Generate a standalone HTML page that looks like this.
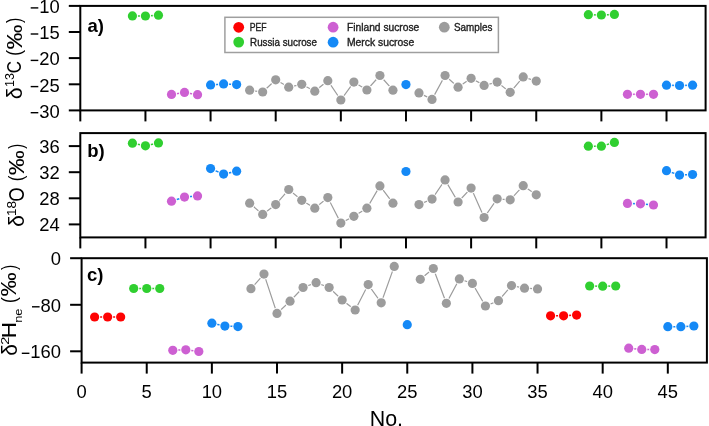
<!DOCTYPE html>
<html><head><meta charset="utf-8"><style>
html,body{margin:0;padding:0;background:#fff;width:709px;height:426px;overflow:hidden}
svg{display:block;will-change:transform}
text{font-family:"Liberation Sans",sans-serif;fill:#000}
.tl{font-size:18.4px}
.pl{font-size:18.5px;font-weight:bold}
.yt{font-size:18.4px}
.sup{font-size:12px}
.lg{font-size:10px;fill:#1e1e1e;stroke:#1e1e1e;stroke-width:0.35px}
</style></head><body>
<svg width="709" height="426" viewBox="0 0 709 426">
<rect x="80.3" y="5.9" width="625.3" height="104.5" fill="none" stroke="#000" stroke-width="2"/>
<line x1="80.3" y1="110.4" x2="80.3" y2="121.4" stroke="#000" stroke-width="2"/>
<line x1="145.44" y1="110.4" x2="145.44" y2="121.4" stroke="#000" stroke-width="2"/>
<line x1="210.57" y1="110.4" x2="210.57" y2="121.4" stroke="#000" stroke-width="2"/>
<line x1="275.7" y1="110.4" x2="275.7" y2="121.4" stroke="#000" stroke-width="2"/>
<line x1="340.84" y1="110.4" x2="340.84" y2="121.4" stroke="#000" stroke-width="2"/>
<line x1="405.97" y1="110.4" x2="405.97" y2="121.4" stroke="#000" stroke-width="2"/>
<line x1="471.11" y1="110.4" x2="471.11" y2="121.4" stroke="#000" stroke-width="2"/>
<line x1="536.25" y1="110.4" x2="536.25" y2="121.4" stroke="#000" stroke-width="2"/>
<line x1="601.38" y1="110.4" x2="601.38" y2="121.4" stroke="#000" stroke-width="2"/>
<line x1="666.51" y1="110.4" x2="666.51" y2="121.4" stroke="#000" stroke-width="2"/>
<path d="M132.41 15.9 L145.44 16 L158.46 15.2" fill="none" stroke="#30cf30" stroke-width="1.5"/>
<path d="M588.35 14.7 L601.38 15 L614.41 14.4" fill="none" stroke="#30cf30" stroke-width="1.5"/>
<path d="M171.49 94.4 L184.52 92.4 L197.54 94.7" fill="none" stroke="#cd60d2" stroke-width="1.5"/>
<path d="M627.43 94.3 L640.46 94.3 L653.49 94.3" fill="none" stroke="#cd60d2" stroke-width="1.5"/>
<path d="M210.57 84.9 L223.6 83.9 L236.62 84.6" fill="none" stroke="#1589f6" stroke-width="1.5"/>
<path d="M666.51 85.2 L679.54 85.5 L692.57 85.2" fill="none" stroke="#1589f6" stroke-width="1.5"/>
<path d="M249.65 90.2 L262.68 92 L275.7 79.8 L288.73 87.2 L301.76 84.3 L314.79 91.2 L327.81 80.7 L340.84 100 L353.87 82.1 L366.89 90 L379.92 75.5 L392.95 90.2" fill="none" stroke="#9c9c9c" stroke-width="1.2"/>
<path d="M419 92.9 L432.03 99.4 L445.06 75.5 L458.08 87.2 L471.11 78.3 L484.14 85.4 L497.16 82.1 L510.19 92.3 L523.22 76.9 L536.25 81.1" fill="none" stroke="#9c9c9c" stroke-width="1.2"/>
<circle cx="132.41" cy="15.9" r="5.6" fill="#fff"/>
<circle cx="145.44" cy="16" r="5.6" fill="#fff"/>
<circle cx="158.46" cy="15.2" r="5.6" fill="#fff"/>
<circle cx="588.35" cy="14.7" r="5.6" fill="#fff"/>
<circle cx="601.38" cy="15" r="5.6" fill="#fff"/>
<circle cx="614.41" cy="14.4" r="5.6" fill="#fff"/>
<circle cx="171.49" cy="94.4" r="5.6" fill="#fff"/>
<circle cx="184.52" cy="92.4" r="5.6" fill="#fff"/>
<circle cx="197.54" cy="94.7" r="5.6" fill="#fff"/>
<circle cx="627.43" cy="94.3" r="5.6" fill="#fff"/>
<circle cx="640.46" cy="94.3" r="5.6" fill="#fff"/>
<circle cx="653.49" cy="94.3" r="5.6" fill="#fff"/>
<circle cx="210.57" cy="84.9" r="5.6" fill="#fff"/>
<circle cx="223.6" cy="83.9" r="5.6" fill="#fff"/>
<circle cx="236.62" cy="84.6" r="5.6" fill="#fff"/>
<circle cx="666.51" cy="85.2" r="5.6" fill="#fff"/>
<circle cx="679.54" cy="85.5" r="5.6" fill="#fff"/>
<circle cx="692.57" cy="85.2" r="5.6" fill="#fff"/>
<circle cx="405.97" cy="84.6" r="5.6" fill="#fff"/>
<circle cx="249.65" cy="90.2" r="5.6" fill="#fff"/>
<circle cx="262.68" cy="92" r="5.6" fill="#fff"/>
<circle cx="275.7" cy="79.8" r="5.6" fill="#fff"/>
<circle cx="288.73" cy="87.2" r="5.6" fill="#fff"/>
<circle cx="301.76" cy="84.3" r="5.6" fill="#fff"/>
<circle cx="314.79" cy="91.2" r="5.6" fill="#fff"/>
<circle cx="327.81" cy="80.7" r="5.6" fill="#fff"/>
<circle cx="340.84" cy="100" r="5.6" fill="#fff"/>
<circle cx="353.87" cy="82.1" r="5.6" fill="#fff"/>
<circle cx="366.89" cy="90" r="5.6" fill="#fff"/>
<circle cx="379.92" cy="75.5" r="5.6" fill="#fff"/>
<circle cx="392.95" cy="90.2" r="5.6" fill="#fff"/>
<circle cx="419" cy="92.9" r="5.6" fill="#fff"/>
<circle cx="432.03" cy="99.4" r="5.6" fill="#fff"/>
<circle cx="445.06" cy="75.5" r="5.6" fill="#fff"/>
<circle cx="458.08" cy="87.2" r="5.6" fill="#fff"/>
<circle cx="471.11" cy="78.3" r="5.6" fill="#fff"/>
<circle cx="484.14" cy="85.4" r="5.6" fill="#fff"/>
<circle cx="497.16" cy="82.1" r="5.6" fill="#fff"/>
<circle cx="510.19" cy="92.3" r="5.6" fill="#fff"/>
<circle cx="523.22" cy="76.9" r="5.6" fill="#fff"/>
<circle cx="536.25" cy="81.1" r="5.6" fill="#fff"/>
<circle cx="132.41" cy="15.9" r="4.6" fill="#30cf30"/>
<circle cx="145.44" cy="16" r="4.6" fill="#30cf30"/>
<circle cx="158.46" cy="15.2" r="4.6" fill="#30cf30"/>
<circle cx="588.35" cy="14.7" r="4.6" fill="#30cf30"/>
<circle cx="601.38" cy="15" r="4.6" fill="#30cf30"/>
<circle cx="614.41" cy="14.4" r="4.6" fill="#30cf30"/>
<circle cx="171.49" cy="94.4" r="4.6" fill="#cd60d2"/>
<circle cx="184.52" cy="92.4" r="4.6" fill="#cd60d2"/>
<circle cx="197.54" cy="94.7" r="4.6" fill="#cd60d2"/>
<circle cx="627.43" cy="94.3" r="4.6" fill="#cd60d2"/>
<circle cx="640.46" cy="94.3" r="4.6" fill="#cd60d2"/>
<circle cx="653.49" cy="94.3" r="4.6" fill="#cd60d2"/>
<circle cx="210.57" cy="84.9" r="4.6" fill="#1589f6"/>
<circle cx="223.6" cy="83.9" r="4.6" fill="#1589f6"/>
<circle cx="236.62" cy="84.6" r="4.6" fill="#1589f6"/>
<circle cx="666.51" cy="85.2" r="4.6" fill="#1589f6"/>
<circle cx="679.54" cy="85.5" r="4.6" fill="#1589f6"/>
<circle cx="692.57" cy="85.2" r="4.6" fill="#1589f6"/>
<circle cx="405.97" cy="84.6" r="4.6" fill="#1589f6"/>
<circle cx="249.65" cy="90.2" r="4.6" fill="#9c9c9c"/>
<circle cx="262.68" cy="92" r="4.6" fill="#9c9c9c"/>
<circle cx="275.7" cy="79.8" r="4.6" fill="#9c9c9c"/>
<circle cx="288.73" cy="87.2" r="4.6" fill="#9c9c9c"/>
<circle cx="301.76" cy="84.3" r="4.6" fill="#9c9c9c"/>
<circle cx="314.79" cy="91.2" r="4.6" fill="#9c9c9c"/>
<circle cx="327.81" cy="80.7" r="4.6" fill="#9c9c9c"/>
<circle cx="340.84" cy="100" r="4.6" fill="#9c9c9c"/>
<circle cx="353.87" cy="82.1" r="4.6" fill="#9c9c9c"/>
<circle cx="366.89" cy="90" r="4.6" fill="#9c9c9c"/>
<circle cx="379.92" cy="75.5" r="4.6" fill="#9c9c9c"/>
<circle cx="392.95" cy="90.2" r="4.6" fill="#9c9c9c"/>
<circle cx="419" cy="92.9" r="4.6" fill="#9c9c9c"/>
<circle cx="432.03" cy="99.4" r="4.6" fill="#9c9c9c"/>
<circle cx="445.06" cy="75.5" r="4.6" fill="#9c9c9c"/>
<circle cx="458.08" cy="87.2" r="4.6" fill="#9c9c9c"/>
<circle cx="471.11" cy="78.3" r="4.6" fill="#9c9c9c"/>
<circle cx="484.14" cy="85.4" r="4.6" fill="#9c9c9c"/>
<circle cx="497.16" cy="82.1" r="4.6" fill="#9c9c9c"/>
<circle cx="510.19" cy="92.3" r="4.6" fill="#9c9c9c"/>
<circle cx="523.22" cy="76.9" r="4.6" fill="#9c9c9c"/>
<circle cx="536.25" cy="81.1" r="4.6" fill="#9c9c9c"/>
<rect x="80.3" y="133.1" width="625.3" height="104.3" fill="none" stroke="#000" stroke-width="2"/>
<line x1="80.3" y1="237.4" x2="80.3" y2="248.4" stroke="#000" stroke-width="2"/>
<line x1="145.44" y1="237.4" x2="145.44" y2="248.4" stroke="#000" stroke-width="2"/>
<line x1="210.57" y1="237.4" x2="210.57" y2="248.4" stroke="#000" stroke-width="2"/>
<line x1="275.7" y1="237.4" x2="275.7" y2="248.4" stroke="#000" stroke-width="2"/>
<line x1="340.84" y1="237.4" x2="340.84" y2="248.4" stroke="#000" stroke-width="2"/>
<line x1="405.97" y1="237.4" x2="405.97" y2="248.4" stroke="#000" stroke-width="2"/>
<line x1="471.11" y1="237.4" x2="471.11" y2="248.4" stroke="#000" stroke-width="2"/>
<line x1="536.25" y1="237.4" x2="536.25" y2="248.4" stroke="#000" stroke-width="2"/>
<line x1="601.38" y1="237.4" x2="601.38" y2="248.4" stroke="#000" stroke-width="2"/>
<line x1="666.51" y1="237.4" x2="666.51" y2="248.4" stroke="#000" stroke-width="2"/>
<path d="M132.41 143.2 L145.44 145.8 L158.46 142.9" fill="none" stroke="#30cf30" stroke-width="1.5"/>
<path d="M588.35 146.2 L601.38 146.2 L614.41 142.4" fill="none" stroke="#30cf30" stroke-width="1.5"/>
<path d="M171.49 201.2 L184.52 197.1 L197.54 195.9" fill="none" stroke="#1589f6" stroke-width="1.5"/>
<path d="M627.43 203.4 L640.46 203.8 L653.49 205" fill="none" stroke="#1589f6" stroke-width="1.5"/>
<path d="M210.57 168.6 L223.6 174.1 L236.62 171.2" fill="none" stroke="#1589f6" stroke-width="1.5"/>
<path d="M666.51 170.7 L679.54 175.1 L692.57 174.5" fill="none" stroke="#1589f6" stroke-width="1.5"/>
<path d="M249.65 203.2 L262.68 214.4 L275.7 204.6 L288.73 189.5 L301.76 200.3 L314.79 208.2 L327.81 197.6 L340.84 223.1 L353.87 216.3 L366.89 208.2 L379.92 185.9 L392.95 203.2" fill="none" stroke="#9c9c9c" stroke-width="1.2"/>
<path d="M419 204.6 L432.03 199.1 L445.06 179.9 L458.08 202 L471.11 188.1 L484.14 217.5 L497.16 198.8 L510.19 199.8 L523.22 185.7 L536.25 194.8" fill="none" stroke="#9c9c9c" stroke-width="1.2"/>
<circle cx="132.41" cy="143.2" r="5.6" fill="#fff"/>
<circle cx="145.44" cy="145.8" r="5.6" fill="#fff"/>
<circle cx="158.46" cy="142.9" r="5.6" fill="#fff"/>
<circle cx="588.35" cy="146.2" r="5.6" fill="#fff"/>
<circle cx="601.38" cy="146.2" r="5.6" fill="#fff"/>
<circle cx="614.41" cy="142.4" r="5.6" fill="#fff"/>
<circle cx="171.49" cy="201.2" r="5.6" fill="#fff"/>
<circle cx="184.52" cy="197.1" r="5.6" fill="#fff"/>
<circle cx="197.54" cy="195.9" r="5.6" fill="#fff"/>
<circle cx="627.43" cy="203.4" r="5.6" fill="#fff"/>
<circle cx="640.46" cy="203.8" r="5.6" fill="#fff"/>
<circle cx="653.49" cy="205" r="5.6" fill="#fff"/>
<circle cx="210.57" cy="168.6" r="5.6" fill="#fff"/>
<circle cx="223.6" cy="174.1" r="5.6" fill="#fff"/>
<circle cx="236.62" cy="171.2" r="5.6" fill="#fff"/>
<circle cx="666.51" cy="170.7" r="5.6" fill="#fff"/>
<circle cx="679.54" cy="175.1" r="5.6" fill="#fff"/>
<circle cx="692.57" cy="174.5" r="5.6" fill="#fff"/>
<circle cx="405.97" cy="171.5" r="5.6" fill="#fff"/>
<circle cx="249.65" cy="203.2" r="5.6" fill="#fff"/>
<circle cx="262.68" cy="214.4" r="5.6" fill="#fff"/>
<circle cx="275.7" cy="204.6" r="5.6" fill="#fff"/>
<circle cx="288.73" cy="189.5" r="5.6" fill="#fff"/>
<circle cx="301.76" cy="200.3" r="5.6" fill="#fff"/>
<circle cx="314.79" cy="208.2" r="5.6" fill="#fff"/>
<circle cx="327.81" cy="197.6" r="5.6" fill="#fff"/>
<circle cx="340.84" cy="223.1" r="5.6" fill="#fff"/>
<circle cx="353.87" cy="216.3" r="5.6" fill="#fff"/>
<circle cx="366.89" cy="208.2" r="5.6" fill="#fff"/>
<circle cx="379.92" cy="185.9" r="5.6" fill="#fff"/>
<circle cx="392.95" cy="203.2" r="5.6" fill="#fff"/>
<circle cx="419" cy="204.6" r="5.6" fill="#fff"/>
<circle cx="432.03" cy="199.1" r="5.6" fill="#fff"/>
<circle cx="445.06" cy="179.9" r="5.6" fill="#fff"/>
<circle cx="458.08" cy="202" r="5.6" fill="#fff"/>
<circle cx="471.11" cy="188.1" r="5.6" fill="#fff"/>
<circle cx="484.14" cy="217.5" r="5.6" fill="#fff"/>
<circle cx="497.16" cy="198.8" r="5.6" fill="#fff"/>
<circle cx="510.19" cy="199.8" r="5.6" fill="#fff"/>
<circle cx="523.22" cy="185.7" r="5.6" fill="#fff"/>
<circle cx="536.25" cy="194.8" r="5.6" fill="#fff"/>
<circle cx="132.41" cy="143.2" r="4.6" fill="#30cf30"/>
<circle cx="145.44" cy="145.8" r="4.6" fill="#30cf30"/>
<circle cx="158.46" cy="142.9" r="4.6" fill="#30cf30"/>
<circle cx="588.35" cy="146.2" r="4.6" fill="#30cf30"/>
<circle cx="601.38" cy="146.2" r="4.6" fill="#30cf30"/>
<circle cx="614.41" cy="142.4" r="4.6" fill="#30cf30"/>
<circle cx="171.49" cy="201.2" r="4.6" fill="#cd60d2"/>
<circle cx="184.52" cy="197.1" r="4.6" fill="#cd60d2"/>
<circle cx="197.54" cy="195.9" r="4.6" fill="#cd60d2"/>
<circle cx="627.43" cy="203.4" r="4.6" fill="#cd60d2"/>
<circle cx="640.46" cy="203.8" r="4.6" fill="#cd60d2"/>
<circle cx="653.49" cy="205" r="4.6" fill="#cd60d2"/>
<circle cx="210.57" cy="168.6" r="4.6" fill="#1589f6"/>
<circle cx="223.6" cy="174.1" r="4.6" fill="#1589f6"/>
<circle cx="236.62" cy="171.2" r="4.6" fill="#1589f6"/>
<circle cx="666.51" cy="170.7" r="4.6" fill="#1589f6"/>
<circle cx="679.54" cy="175.1" r="4.6" fill="#1589f6"/>
<circle cx="692.57" cy="174.5" r="4.6" fill="#1589f6"/>
<circle cx="405.97" cy="171.5" r="4.6" fill="#1589f6"/>
<circle cx="249.65" cy="203.2" r="4.6" fill="#9c9c9c"/>
<circle cx="262.68" cy="214.4" r="4.6" fill="#9c9c9c"/>
<circle cx="275.7" cy="204.6" r="4.6" fill="#9c9c9c"/>
<circle cx="288.73" cy="189.5" r="4.6" fill="#9c9c9c"/>
<circle cx="301.76" cy="200.3" r="4.6" fill="#9c9c9c"/>
<circle cx="314.79" cy="208.2" r="4.6" fill="#9c9c9c"/>
<circle cx="327.81" cy="197.6" r="4.6" fill="#9c9c9c"/>
<circle cx="340.84" cy="223.1" r="4.6" fill="#9c9c9c"/>
<circle cx="353.87" cy="216.3" r="4.6" fill="#9c9c9c"/>
<circle cx="366.89" cy="208.2" r="4.6" fill="#9c9c9c"/>
<circle cx="379.92" cy="185.9" r="4.6" fill="#9c9c9c"/>
<circle cx="392.95" cy="203.2" r="4.6" fill="#9c9c9c"/>
<circle cx="419" cy="204.6" r="4.6" fill="#9c9c9c"/>
<circle cx="432.03" cy="199.1" r="4.6" fill="#9c9c9c"/>
<circle cx="445.06" cy="179.9" r="4.6" fill="#9c9c9c"/>
<circle cx="458.08" cy="202" r="4.6" fill="#9c9c9c"/>
<circle cx="471.11" cy="188.1" r="4.6" fill="#9c9c9c"/>
<circle cx="484.14" cy="217.5" r="4.6" fill="#9c9c9c"/>
<circle cx="497.16" cy="198.8" r="4.6" fill="#9c9c9c"/>
<circle cx="510.19" cy="199.8" r="4.6" fill="#9c9c9c"/>
<circle cx="523.22" cy="185.7" r="4.6" fill="#9c9c9c"/>
<circle cx="536.25" cy="194.8" r="4.6" fill="#9c9c9c"/>
<rect x="81.6" y="258.2" width="625.3" height="104.4" fill="none" stroke="#000" stroke-width="2"/>
<line x1="81.6" y1="362.6" x2="81.6" y2="373.6" stroke="#000" stroke-width="2"/>
<line x1="146.73" y1="362.6" x2="146.73" y2="373.6" stroke="#000" stroke-width="2"/>
<line x1="211.87" y1="362.6" x2="211.87" y2="373.6" stroke="#000" stroke-width="2"/>
<line x1="277" y1="362.6" x2="277" y2="373.6" stroke="#000" stroke-width="2"/>
<line x1="342.14" y1="362.6" x2="342.14" y2="373.6" stroke="#000" stroke-width="2"/>
<line x1="407.27" y1="362.6" x2="407.27" y2="373.6" stroke="#000" stroke-width="2"/>
<line x1="472.41" y1="362.6" x2="472.41" y2="373.6" stroke="#000" stroke-width="2"/>
<line x1="537.54" y1="362.6" x2="537.54" y2="373.6" stroke="#000" stroke-width="2"/>
<line x1="602.68" y1="362.6" x2="602.68" y2="373.6" stroke="#000" stroke-width="2"/>
<line x1="667.81" y1="362.6" x2="667.81" y2="373.6" stroke="#000" stroke-width="2"/>
<path d="M94.63 317 L107.65 317 L120.68 317" fill="none" stroke="#fe0202" stroke-width="1.5"/>
<path d="M550.57 315.8 L563.6 315.8 L576.63 315.1" fill="none" stroke="#fe0202" stroke-width="1.5"/>
<path d="M133.71 288.5 L146.73 288.5 L159.76 288.5" fill="none" stroke="#30cf30" stroke-width="1.5"/>
<path d="M589.65 286 L602.68 286.2 L615.71 286" fill="none" stroke="#30cf30" stroke-width="1.5"/>
<path d="M172.79 350.3 L185.82 349.8 L198.84 351.5" fill="none" stroke="#cd60d2" stroke-width="1.5"/>
<path d="M628.73 348.2 L641.76 349.4 L654.79 349.6" fill="none" stroke="#cd60d2" stroke-width="1.5"/>
<path d="M211.87 323.2 L224.9 326.1 L237.92 326.6" fill="none" stroke="#1589f6" stroke-width="1.5"/>
<path d="M667.81 326.7 L680.84 326.7 L693.87 326" fill="none" stroke="#1589f6" stroke-width="1.5"/>
<path d="M250.95 288.7 L263.98 274.1 L277 313.4 L290.03 301.2 L303.06 287.5 L316.09 282.7 L329.11 287.5 L342.14 300 L355.17 310 L368.19 284.6 L381.22 302.8 L394.25 266.4" fill="none" stroke="#9c9c9c" stroke-width="1.2"/>
<path d="M420.3 279.3 L433.33 268.5 L446.36 303.3 L459.38 278.9 L472.41 283.4 L485.44 306 L498.46 300.7 L511.49 285.6 L524.52 288.2 L537.54 288.9" fill="none" stroke="#9c9c9c" stroke-width="1.2"/>
<circle cx="94.63" cy="317" r="5.6" fill="#fff"/>
<circle cx="107.65" cy="317" r="5.6" fill="#fff"/>
<circle cx="120.68" cy="317" r="5.6" fill="#fff"/>
<circle cx="550.57" cy="315.8" r="5.6" fill="#fff"/>
<circle cx="563.6" cy="315.8" r="5.6" fill="#fff"/>
<circle cx="576.63" cy="315.1" r="5.6" fill="#fff"/>
<circle cx="133.71" cy="288.5" r="5.6" fill="#fff"/>
<circle cx="146.73" cy="288.5" r="5.6" fill="#fff"/>
<circle cx="159.76" cy="288.5" r="5.6" fill="#fff"/>
<circle cx="589.65" cy="286" r="5.6" fill="#fff"/>
<circle cx="602.68" cy="286.2" r="5.6" fill="#fff"/>
<circle cx="615.71" cy="286" r="5.6" fill="#fff"/>
<circle cx="172.79" cy="350.3" r="5.6" fill="#fff"/>
<circle cx="185.82" cy="349.8" r="5.6" fill="#fff"/>
<circle cx="198.84" cy="351.5" r="5.6" fill="#fff"/>
<circle cx="628.73" cy="348.2" r="5.6" fill="#fff"/>
<circle cx="641.76" cy="349.4" r="5.6" fill="#fff"/>
<circle cx="654.79" cy="349.6" r="5.6" fill="#fff"/>
<circle cx="211.87" cy="323.2" r="5.6" fill="#fff"/>
<circle cx="224.9" cy="326.1" r="5.6" fill="#fff"/>
<circle cx="237.92" cy="326.6" r="5.6" fill="#fff"/>
<circle cx="667.81" cy="326.7" r="5.6" fill="#fff"/>
<circle cx="680.84" cy="326.7" r="5.6" fill="#fff"/>
<circle cx="693.87" cy="326" r="5.6" fill="#fff"/>
<circle cx="407.27" cy="324.7" r="5.6" fill="#fff"/>
<circle cx="250.95" cy="288.7" r="5.6" fill="#fff"/>
<circle cx="263.98" cy="274.1" r="5.6" fill="#fff"/>
<circle cx="277" cy="313.4" r="5.6" fill="#fff"/>
<circle cx="290.03" cy="301.2" r="5.6" fill="#fff"/>
<circle cx="303.06" cy="287.5" r="5.6" fill="#fff"/>
<circle cx="316.09" cy="282.7" r="5.6" fill="#fff"/>
<circle cx="329.11" cy="287.5" r="5.6" fill="#fff"/>
<circle cx="342.14" cy="300" r="5.6" fill="#fff"/>
<circle cx="355.17" cy="310" r="5.6" fill="#fff"/>
<circle cx="368.19" cy="284.6" r="5.6" fill="#fff"/>
<circle cx="381.22" cy="302.8" r="5.6" fill="#fff"/>
<circle cx="394.25" cy="266.4" r="5.6" fill="#fff"/>
<circle cx="420.3" cy="279.3" r="5.6" fill="#fff"/>
<circle cx="433.33" cy="268.5" r="5.6" fill="#fff"/>
<circle cx="446.36" cy="303.3" r="5.6" fill="#fff"/>
<circle cx="459.38" cy="278.9" r="5.6" fill="#fff"/>
<circle cx="472.41" cy="283.4" r="5.6" fill="#fff"/>
<circle cx="485.44" cy="306" r="5.6" fill="#fff"/>
<circle cx="498.46" cy="300.7" r="5.6" fill="#fff"/>
<circle cx="511.49" cy="285.6" r="5.6" fill="#fff"/>
<circle cx="524.52" cy="288.2" r="5.6" fill="#fff"/>
<circle cx="537.54" cy="288.9" r="5.6" fill="#fff"/>
<circle cx="94.63" cy="317" r="4.6" fill="#fe0202"/>
<circle cx="107.65" cy="317" r="4.6" fill="#fe0202"/>
<circle cx="120.68" cy="317" r="4.6" fill="#fe0202"/>
<circle cx="550.57" cy="315.8" r="4.6" fill="#fe0202"/>
<circle cx="563.6" cy="315.8" r="4.6" fill="#fe0202"/>
<circle cx="576.63" cy="315.1" r="4.6" fill="#fe0202"/>
<circle cx="133.71" cy="288.5" r="4.6" fill="#30cf30"/>
<circle cx="146.73" cy="288.5" r="4.6" fill="#30cf30"/>
<circle cx="159.76" cy="288.5" r="4.6" fill="#30cf30"/>
<circle cx="589.65" cy="286" r="4.6" fill="#30cf30"/>
<circle cx="602.68" cy="286.2" r="4.6" fill="#30cf30"/>
<circle cx="615.71" cy="286" r="4.6" fill="#30cf30"/>
<circle cx="172.79" cy="350.3" r="4.6" fill="#cd60d2"/>
<circle cx="185.82" cy="349.8" r="4.6" fill="#cd60d2"/>
<circle cx="198.84" cy="351.5" r="4.6" fill="#cd60d2"/>
<circle cx="628.73" cy="348.2" r="4.6" fill="#cd60d2"/>
<circle cx="641.76" cy="349.4" r="4.6" fill="#cd60d2"/>
<circle cx="654.79" cy="349.6" r="4.6" fill="#cd60d2"/>
<circle cx="211.87" cy="323.2" r="4.6" fill="#1589f6"/>
<circle cx="224.9" cy="326.1" r="4.6" fill="#1589f6"/>
<circle cx="237.92" cy="326.6" r="4.6" fill="#1589f6"/>
<circle cx="667.81" cy="326.7" r="4.6" fill="#1589f6"/>
<circle cx="680.84" cy="326.7" r="4.6" fill="#1589f6"/>
<circle cx="693.87" cy="326" r="4.6" fill="#1589f6"/>
<circle cx="407.27" cy="324.7" r="4.6" fill="#1589f6"/>
<circle cx="250.95" cy="288.7" r="4.6" fill="#9c9c9c"/>
<circle cx="263.98" cy="274.1" r="4.6" fill="#9c9c9c"/>
<circle cx="277" cy="313.4" r="4.6" fill="#9c9c9c"/>
<circle cx="290.03" cy="301.2" r="4.6" fill="#9c9c9c"/>
<circle cx="303.06" cy="287.5" r="4.6" fill="#9c9c9c"/>
<circle cx="316.09" cy="282.7" r="4.6" fill="#9c9c9c"/>
<circle cx="329.11" cy="287.5" r="4.6" fill="#9c9c9c"/>
<circle cx="342.14" cy="300" r="4.6" fill="#9c9c9c"/>
<circle cx="355.17" cy="310" r="4.6" fill="#9c9c9c"/>
<circle cx="368.19" cy="284.6" r="4.6" fill="#9c9c9c"/>
<circle cx="381.22" cy="302.8" r="4.6" fill="#9c9c9c"/>
<circle cx="394.25" cy="266.4" r="4.6" fill="#9c9c9c"/>
<circle cx="420.3" cy="279.3" r="4.6" fill="#9c9c9c"/>
<circle cx="433.33" cy="268.5" r="4.6" fill="#9c9c9c"/>
<circle cx="446.36" cy="303.3" r="4.6" fill="#9c9c9c"/>
<circle cx="459.38" cy="278.9" r="4.6" fill="#9c9c9c"/>
<circle cx="472.41" cy="283.4" r="4.6" fill="#9c9c9c"/>
<circle cx="485.44" cy="306" r="4.6" fill="#9c9c9c"/>
<circle cx="498.46" cy="300.7" r="4.6" fill="#9c9c9c"/>
<circle cx="511.49" cy="285.6" r="4.6" fill="#9c9c9c"/>
<circle cx="524.52" cy="288.2" r="4.6" fill="#9c9c9c"/>
<circle cx="537.54" cy="288.9" r="4.6" fill="#9c9c9c"/>
<line x1="68.8" y1="5.9" x2="80.3" y2="5.9" stroke="#000" stroke-width="2"/>
<text x="59.7" y="12.9" class="tl" text-anchor="end">10</text>
<rect x="30.7" y="7.2" width="7.6" height="1.4" fill="#000"/>
<line x1="68.8" y1="32" x2="80.3" y2="32" stroke="#000" stroke-width="2"/>
<text x="59.7" y="39" class="tl" text-anchor="end">15</text>
<rect x="30.7" y="33.3" width="7.6" height="1.4" fill="#000"/>
<line x1="68.8" y1="58.1" x2="80.3" y2="58.1" stroke="#000" stroke-width="2"/>
<text x="59.7" y="65.4" class="tl" text-anchor="end">20</text>
<rect x="30.7" y="59.7" width="7.6" height="1.4" fill="#000"/>
<line x1="68.8" y1="84.3" x2="80.3" y2="84.3" stroke="#000" stroke-width="2"/>
<text x="59.7" y="91.6" class="tl" text-anchor="end">25</text>
<rect x="30.7" y="85.9" width="7.6" height="1.4" fill="#000"/>
<line x1="68.8" y1="110.4" x2="80.3" y2="110.4" stroke="#000" stroke-width="2"/>
<text x="59.7" y="117.7" class="tl" text-anchor="end">30</text>
<rect x="30.7" y="112" width="7.6" height="1.4" fill="#000"/>
<line x1="68.8" y1="146.1" x2="80.3" y2="146.1" stroke="#000" stroke-width="2"/>
<text x="59.7" y="153.1" class="tl" text-anchor="end">36</text>
<line x1="68.8" y1="172.2" x2="80.3" y2="172.2" stroke="#000" stroke-width="2"/>
<text x="59.7" y="179.2" class="tl" text-anchor="end">32</text>
<line x1="68.8" y1="198.3" x2="80.3" y2="198.3" stroke="#000" stroke-width="2"/>
<text x="59.7" y="205.3" class="tl" text-anchor="end">28</text>
<line x1="68.8" y1="224.4" x2="80.3" y2="224.4" stroke="#000" stroke-width="2"/>
<text x="59.7" y="231.4" class="tl" text-anchor="end">24</text>
<line x1="70.1" y1="258.2" x2="81.6" y2="258.2" stroke="#000" stroke-width="2"/>
<text x="61" y="265.2" class="tl" text-anchor="end">0</text>
<line x1="70.1" y1="304.8" x2="81.6" y2="304.8" stroke="#000" stroke-width="2"/>
<text x="61" y="311.8" class="tl" text-anchor="end">80</text>
<rect x="32" y="306.1" width="7.6" height="1.4" fill="#000"/>
<line x1="70.1" y1="351.3" x2="81.6" y2="351.3" stroke="#000" stroke-width="2"/>
<text x="61" y="358.3" class="tl" text-anchor="end">160</text>
<rect x="21.8" y="352.6" width="7.6" height="1.4" fill="#000"/>
<text x="81.6" y="397.5" class="tl" text-anchor="middle">0</text>
<text x="146.73" y="397.5" class="tl" text-anchor="middle">5</text>
<text x="211.87" y="397.5" class="tl" text-anchor="middle">10</text>
<text x="277" y="397.5" class="tl" text-anchor="middle">15</text>
<text x="342.14" y="397.5" class="tl" text-anchor="middle">20</text>
<text x="407.27" y="397.5" class="tl" text-anchor="middle">25</text>
<text x="472.41" y="397.5" class="tl" text-anchor="middle">30</text>
<text x="537.54" y="397.5" class="tl" text-anchor="middle">35</text>
<text x="602.68" y="397.5" class="tl" text-anchor="middle">40</text>
<text x="667.81" y="397.5" class="tl" text-anchor="middle">45</text>
<text x="386.4" y="426.1" class="tl" style="font-size:21.4px" text-anchor="middle">No.</text>
<text x="87.5" y="31.7" class="pl">a)</text>
<text x="87.2" y="157.1" class="pl">b)</text>
<text x="87" y="281" class="pl">c)</text>
<text transform="translate(13.2,93.25) scale(1.1067,1.1000) translate(-92.5,-194.5) translate(100,200) rotate(-90)" style="font-size:19.5px">δ</text>
<text transform="translate(10,79.9) scale(0.9778,1.0000) translate(-95.5,-193) translate(100,200) rotate(-90)" style="font-size:12.5px">13</text>
<text transform="translate(14.2,67.1) scale(1.0000,0.8667) translate(-93,-193) translate(100,200) rotate(-90)" style="font-size:19.5px">C</text>
<text transform="translate(15.2,52.75) scale(1.0842,0.9400) translate(-94.5,-196.5) translate(100,200) rotate(-90)" style="font-size:19.5px">(</text>
<text transform="translate(14,36.65) scale(1.1429,1.2833) translate(-93,-190) translate(100,200) rotate(-90)" style="font-size:19.5px">‰</text>
<text transform="translate(15.2,20.85) scale(1.0842,0.8200) translate(-94.5,-197.5) translate(100,200) rotate(-90)" style="font-size:19.5px">)</text>
<text transform="translate(15.55,220.9) scale(1.1667,1.0667) translate(-92.5,-194.5) translate(100,200) rotate(-90)" style="font-size:19.5px">δ</text>
<text transform="translate(11.85,208.5) scale(1.0111,1.0833) translate(-95.5,-193) translate(100,200) rotate(-90)" style="font-size:12.5px">18</text>
<text transform="translate(15.8,194.7) scale(1.1286,0.9538) translate(-93,-192.5) translate(100,200) rotate(-90)" style="font-size:19.5px">O</text>
<text transform="translate(17.1,178.1) scale(1.0632,0.8800) translate(-94.5,-196.5) translate(100,200) rotate(-90)" style="font-size:19.5px">(</text>
<text transform="translate(15.9,162.45) scale(1.1571,1.2833) translate(-93,-190) translate(100,200) rotate(-90)" style="font-size:19.5px">‰</text>
<text transform="translate(17.1,146.8) scale(1.0632,0.7600) translate(-94.5,-197.5) translate(100,200) rotate(-90)" style="font-size:19.5px">)</text>
<text transform="translate(8.5,349.85) scale(1.1067,1.0778) translate(-92.5,-194.5) translate(100,200) rotate(-90)" style="font-size:19.5px">δ</text>
<text transform="translate(4.8,340.8) scale(0.9333,1.1600) translate(-95.5,-196.5) translate(100,200) rotate(-90)" style="font-size:12.5px">2</text>
<text transform="translate(8.7,330.2) scale(1.0571,1.1600) translate(-93,-193) translate(100,200) rotate(-90)" style="font-size:19.5px">H</text>
<text transform="translate(18.7,315.65) scale(0.9143,1.0250) translate(-96.5,-193) translate(100,200) rotate(-90)" style="font-size:12.5px">ne</text>
<text transform="translate(10.25,299.85) scale(1.0789,0.9400) translate(-94.5,-196.5) translate(100,200) rotate(-90)" style="font-size:19.5px">(</text>
<text transform="translate(8.8,284.05) scale(1.0857,1.2389) translate(-93,-190) translate(100,200) rotate(-90)" style="font-size:19.5px">‰</text>
<text transform="translate(10.25,267.95) scale(1.0789,0.8200) translate(-94.5,-197.5) translate(100,200) rotate(-90)" style="font-size:19.5px">)</text>
<rect x="224.9" y="17.3" width="273.5" height="35.2" fill="#fff" stroke="#9f9f9f" stroke-width="1.5"/>
<circle cx="238.7" cy="27.3" r="5.4" fill="#fe0202"/>
<text transform="translate(249.7,30.9) scale(0.8684,1)" class="lg">PEF</text>
<circle cx="238.7" cy="42.1" r="5.4" fill="#30cf30"/>
<text transform="translate(250.1,45.6) scale(0.9794,1)" class="lg">Russia sucrose</text>
<circle cx="333.1" cy="27.2" r="5.4" fill="#cd60d2"/>
<text transform="translate(347,30.9) scale(1.0243,1)" class="lg">Finland sucrose</text>
<circle cx="333.1" cy="42.2" r="5.4" fill="#1589f6"/>
<text transform="translate(347,45.6) scale(1.0354,1)" class="lg">Merck sucrose</text>
<circle cx="444.3" cy="27.2" r="5.4" fill="#9c9c9c"/>
<text transform="translate(454,30.9) scale(0.9872,1)" class="lg">Samples</text>
</svg>
</body></html>
